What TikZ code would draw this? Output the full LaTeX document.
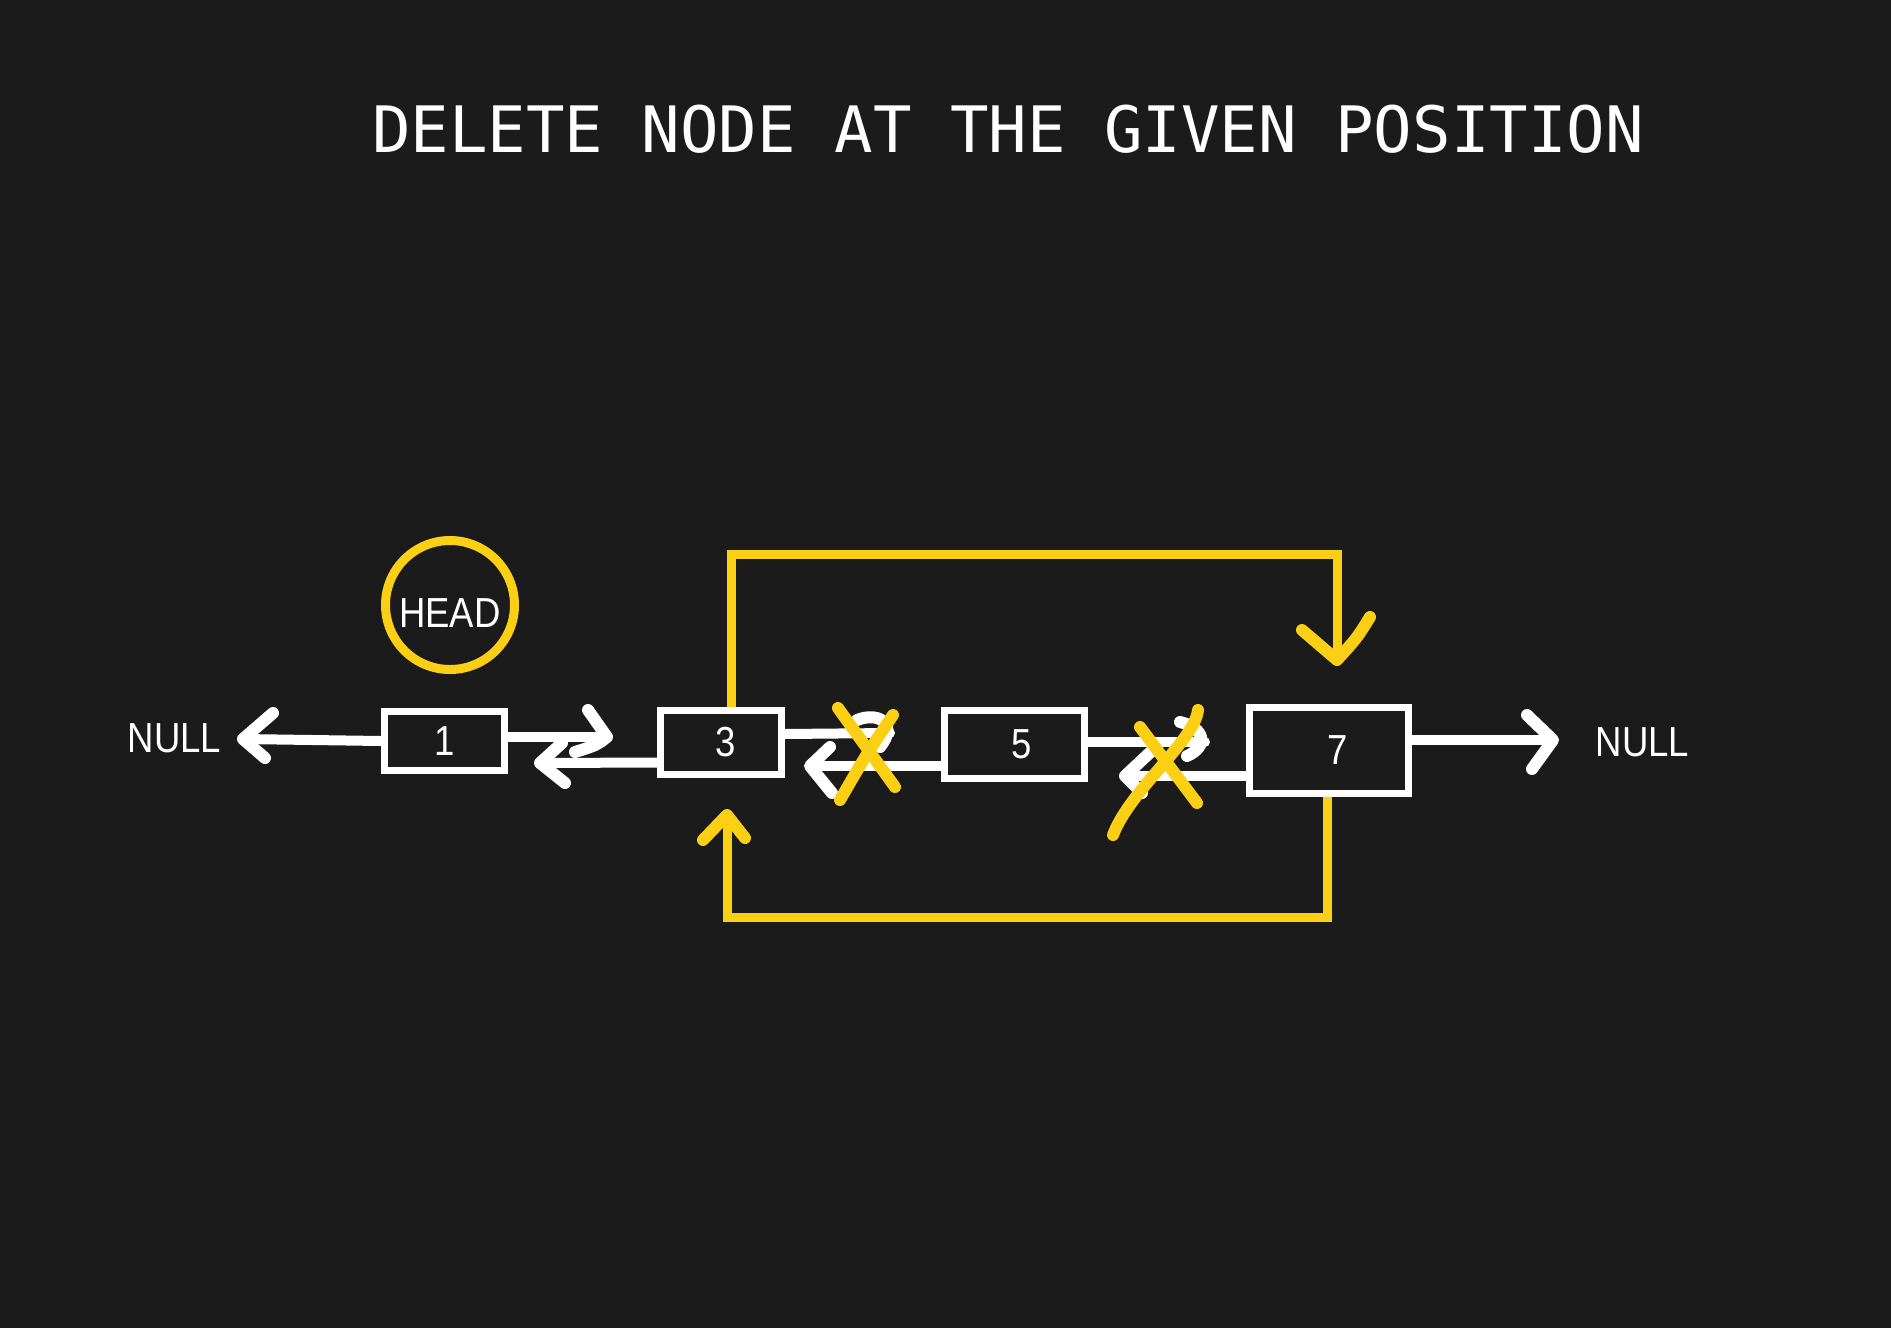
\documentclass[tikz,border=0pt]{standalone}
\usepackage{fontspec}
\usetikzlibrary{calc}
\setmonofont{DejaVu Sans Mono}
\newfontfamily\labelfont{Liberation Sans}[FakeStretch=0.87]

\definecolor{bgdark}{HTML}{1B1B1B}
\definecolor{hiyellow}{HTML}{FBCF14}

\tikzset{
    box/.style={draw=white, line width=7pt, fill=bgdark, text=white, inner sep=0pt,
        font={\labelfont\fontsize{42}{50}\selectfont}},
    txt/.style={text=white, inner sep=0pt, font={\labelfont\fontsize{42}{50}\selectfont}},
    link/.style={white, line width=10pt, line cap=round},
    barb/.style={white, line width=12pt, line cap=round, line join=round},
    jump/.style={hiyellow, line width=9pt},
    ybarb/.style={hiyellow, line width=12pt, line cap=round, line join=round},
    cross/.style={hiyellow, line width=12pt, line cap=round}
}

\begin{document}
\begin{tikzpicture}[x=1pt, y=-1pt] % 1 unit = 1 pixel, y goes down
        % Page size in pixels
        \def\pageWidth{1891}
        \def\pageHeight{1328}

        % Background
        \fill[bgdark] (0,0) rectangle (\pageWidth,\pageHeight);
        \useasboundingbox (0,0) rectangle (\pageWidth,\pageHeight);

        % Title
        \node[text=white, inner sep=0pt, font=\ttfamily\fontsize{64}{76}\selectfont] (title)
            at (1008,129) {DELETE NODE AT THE GIVEN POSITION};

        % List nodes (text pushed right by \dx/2)
        \foreach \name/\val/\x/\y/\w/\h/\dx in {n1/1/444.5/741/120pt/59pt/0pt, n3/3/721/742.5/121pt/64pt/10pt,
                                               n5/5/1014.5/744.5/140pt/68pt/14pt, n7/7/1329/750.5/159pt/86pt/18pt} {
            \node[box, minimum width=\w, minimum height=\h] (\name) at (\x,\y) {\hspace*{\dx}\val};
        }

        % Head marker and NULL ends
        \node[txt, circle, draw=hiyellow, line width=9pt, minimum size=129pt, text height=44pt] (head) at (450,605) {HEAD};
        \node[txt] (nullL) at (174.5,738) {NULL};
        \node[txt] (nullR) at (1642.5,742) {NULL};

        % Arrow tips
        \coordinate (tL) at (243,739);
        \coordinate (t13) at (607,737);
        \coordinate (t31) at (540,763);
        \coordinate (t35) at (890,733);
        \coordinate (t53) at (810,766);
        \coordinate (t57) at (1205,742);
        \coordinate (t75) at (1125,776);
        \coordinate (tR) at (1553,740);
        \coordinate (topR) at (1337,554);
        \coordinate (tT) at (1337,660);
        \coordinate (botL) at (727,917);
        \coordinate (tB) at (727,815);
        \coordinate (x35) at (866,755);
        \coordinate (x57) at (1160,770);

        % White links
        \draw[link] (n1.west) -- (tL);
        \draw[link] ([yshift=4pt]n1.east) -- (t13);
        \draw[link] ([yshift=-20pt]n3.west) -- (t31);
        \draw[link] ([yshift=8.5pt]n3.east) -- (t35);
        \draw[link] ([yshift=-21.5pt]n5.west) -- (t53);
        \draw[link] ([yshift=2.5pt]n5.east) -- (t57);
        \draw[link] ([yshift=-25.5pt]n7.west) -- (t75);
        \draw[link] ([yshift=10.5pt]n7.east) -- (tR);

        % Hand drawn heads
        \draw[barb] ($(tL)+(30,-26)$) -- (tL) -- ($(tL)+(22,19)$);
        \draw[barb] ($(t13)+(-19,-27)$) -- (t13) .. controls ($(t13)+(-10,8)$) .. ($(t13)+(-32,15)$);
        \draw[barb] ($(t31)+(22,-20)$) -- (t31) -- ($(t31)+(25,20)$);
        \draw[barb] ($(t35)+(-33,-13)$) .. controls ($(t35)+(-10,-22)$) and ($(t35)+(8,-8)$) .. ($(t35)+(-10,14)$);
        \draw[barb] ($(t53)+(20,-19)$) -- (t53) -- ($(t53)+(22,27)$);
        \draw[barb] ($(t57)+(-25,-20)$) .. controls ($(t57)+(0,-14)$) and ($(t57)+(4,4)$) .. ($(t57)+(-18,14)$);
        \draw[barb] ($(t75)+(32,-30)$) -- (t75) -- ($(t75)+(17,17)$);
        \draw[barb] ($(tR)+(-26,-25)$) -- (tR) -- ($(tR)+(-21,29)$);

        % Yellow bypass links
        \draw[jump] ([xshift=10pt]n3.north) |- (topR) -- (tT);
        \draw[jump] ([xshift=-2pt]n7.south) |- (botL) -- (tB);
        \draw[ybarb] ($(tT)+(-35,-30)$) -- (tT) .. controls ($(tT)+(20,-22)$) .. ($(tT)+(33,-43)$);
        \draw[ybarb] ($(tB)+(-24,25)$) -- (tB) -- ($(tB)+(18,23)$);

        % Crossed out links
        \draw[cross] ($(x35)+(-28,-47)$) -- ($(x35)+(29,32)$);
        \draw[cross] ($(x35)+(27,-40)$) .. controls ($(x35)+(0,0)$) .. ($(x35)+(-26,45)$);
        \draw[cross] ($(x57)+(-20,-43)$) -- ($(x57)+(37,33)$);
        \draw[cross] ($(x57)+(38,-60)$) .. controls ($(x57)+(35,-30)$) and ($(x57)+(-30,20)$) .. ($(x57)+(-47,65)$);

    \end{tikzpicture}
\end{document}
